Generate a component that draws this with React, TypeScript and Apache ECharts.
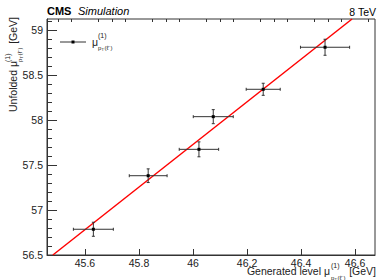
import React, { useEffect, useRef } from "react";
import * as echarts from "echarts";

const genX = [45.631, 45.834, 46.022, 46.075, 46.26, 46.489];
const unfY = [56.786, 57.381, 57.674, 58.037, 58.341, 58.808];
const errX = [0.074, 0.07, 0.073, 0.074, 0.063, 0.091];
const errY = [0.078, 0.076, 0.083, 0.078, 0.067, 0.089];
const fitX = [45.481, 46.589];
const fitY = [56.5, 59.122];
const xMajor = [45.6, 45.8, 46.0, 46.2, 46.4, 46.6];
const xMinor = [45.5, 45.55, 45.65, 45.7, 45.75, 45.85, 45.9, 45.95, 46.05, 46.1, 46.15, 46.25, 46.3, 46.35, 46.45, 46.5, 46.55, 46.65];
const yMajor = [56.5, 57, 57.5, 58, 58.5, 59];
const yMinor = [56.6, 56.7, 56.8, 56.9, 57.1, 57.2, 57.3, 57.4, 57.6, 57.7, 57.8, 57.9, 58.1, 58.2, 58.3, 58.4, 58.6, 58.7, 58.8, 58.9, 59.1];

const FONT = "'Liberation Sans', Arial, Helvetica, sans-serif";
const AX = "#333";

export default function App() {
  const ref = useRef<HTMLDivElement>(null);
  useEffect(() => {
    if (!ref.current) return;
    const chart = echarts.init(ref.current, null, { renderer: "svg" });
    const xr = { min: 45.4593, max: 46.674 };
    const yr = { min: 56.5, max: 59.122 };
    const pts = genX.map((x, i) => [x, unfY[i], errX[i], errY[i]]);
    const subStyle = { fontFamily: FONT, fontSize: 6, fill: "#222" };
    const supStyle = { fontFamily: FONT, fontSize: 7, fill: "#222" };
    const mainStyle = { fontFamily: FONT, fontSize: 10.5, fill: "#222" };
    chart.setOption({
      animation: false,
      grid: { left: 47, top: 19, right: 3, bottom: 25, show: true, borderColor: AX, borderWidth: 1, backgroundColor: "transparent" },
      xAxis: [
        {
          type: "value", ...xr, gridIndex: 0,
          axisLine: { show: true, lineStyle: { color: AX } },
          splitLine: { show: false },
          axisTick: { show: true, inside: true, length: 6, customValues: xMajor, lineStyle: { color: AX } },
          axisLabel: { show: true, customValues: xMajor, margin: 2, fontFamily: FONT, fontSize: 10.5, color: "#222", formatter: (v: number) => String(+v.toFixed(2)) },
        },
        {
          type: "value", ...xr, gridIndex: 0,
          axisLine: { show: false },
          splitLine: { show: false },
          axisTick: { show: true, inside: true, length: 3, customValues: xMinor, lineStyle: { color: AX } },
          axisLabel: { show: false },
        },
      ],
      yAxis: [
        {
          type: "value", ...yr, gridIndex: 0,
          axisLine: { show: true, lineStyle: { color: AX } },
          splitLine: { show: false },
          axisTick: { show: true, inside: true, length: 10, customValues: yMajor, lineStyle: { color: AX } },
          axisLabel: { show: true, customValues: yMajor, margin: 4, fontFamily: FONT, fontSize: 10.5, color: "#222", formatter: (v: number) => String(+v.toFixed(2)) },
        },
        {
          type: "value", ...yr, gridIndex: 0, position: "left",
          axisLine: { show: false },
          splitLine: { show: false },
          axisTick: { show: true, inside: true, length: 5, customValues: yMinor, lineStyle: { color: AX } },
          axisLabel: { show: false },
        },
      ],
      series: [
        {
          type: "line",
          data: fitX.map((x, i) => [x, fitY[i]]),
          symbol: "none",
          lineStyle: { color: "#ff0000", width: 1.5 },
          clip: true,
          z: 3,
        },
        {
          type: "custom",
          data: pts,
          z: 4,
          renderItem: (params: any, api: any) => {
            const x = api.value(0), y = api.value(1), ex = api.value(2), ey = api.value(3);
            const c = api.coord([x, y]);
            const l = api.coord([x - ex, y]);
            const r = api.coord([x + ex, y]);
            const t = api.coord([x, y + ey]);
            const b = api.coord([x, y - ey]);
            const st = { stroke: "#333", lineWidth: 1 };
            const cap = 1.5;
            return {
              type: "group",
              children: [
                { type: "line", shape: { x1: l[0], y1: c[1], x2: r[0], y2: c[1] }, style: st },
                { type: "line", shape: { x1: c[0], y1: t[1], x2: c[0], y2: b[1] }, style: st },
                { type: "line", shape: { x1: l[0], y1: c[1] - cap, x2: l[0], y2: c[1] + cap }, style: st },
                { type: "line", shape: { x1: r[0], y1: c[1] - cap, x2: r[0], y2: c[1] + cap }, style: st },
                { type: "line", shape: { x1: c[0] - cap, y1: t[1], x2: c[0] + cap, y2: t[1] }, style: st },
                { type: "line", shape: { x1: c[0] - cap, y1: b[1], x2: c[0] + cap, y2: b[1] }, style: st },
                { type: "rect", shape: { x: c[0] - 1.5, y: c[1] - 1.5, width: 3, height: 3 }, style: { fill: "#000" } },
              ],
            };
          },
        },
      ],
      graphic: [
        { type: "text", left: 47, top: 5, style: { text: "CMS", fontFamily: FONT, fontSize: 11, fontWeight: "bold", fill: "#000" } },
        { type: "text", left: 78, top: 5, style: { text: "Simulation", fontFamily: FONT, fontSize: 11, fontStyle: "italic", fill: "#000" } },
        { type: "text", x: 376, y: 12, style: { text: "8 TeV", fontFamily: FONT, fontSize: 10.5, fill: "#000", align: "right", verticalAlign: "middle" } },
        // legend
        { type: "line", shape: { x1: 60, y1: 42, x2: 86, y2: 42 }, style: { stroke: "#333", lineWidth: 1 } },
        { type: "rect", shape: { x: 71.5, y: 40.5, width: 3, height: 3 }, style: { fill: "#000" } },
        { type: "text", x: 92, y: 42, style: { ...mainStyle, text: "μ", align: "left", verticalAlign: "middle" } },
        { type: "text", x: 98, y: 35, style: { ...supStyle, text: "(1)", align: "left", verticalAlign: "middle" } },
        { type: "text", x: 98, y: 48, style: { ...subStyle, text: "p", align: "left", verticalAlign: "middle" } },
        { type: "text", x: 101.5, y: 49.5, style: { ...subStyle, fontSize: 4, text: "T", align: "left", verticalAlign: "middle" } },
        { type: "text", x: 104.5, y: 48, style: { ...subStyle, text: "(ℓ⁻)", align: "left", verticalAlign: "middle" } },
        // x title
        { type: "text", x: 330, y: 271, style: { ...mainStyle, text: "Generated level μ", align: "right", verticalAlign: "middle" } },
        { type: "text", x: 331, y: 265.5, style: { ...supStyle, text: "(1)", align: "left", verticalAlign: "middle" } },
        { type: "text", x: 331, y: 277.5, style: { ...subStyle, text: "p", align: "left", verticalAlign: "middle" } },
        { type: "text", x: 334.5, y: 279, style: { ...subStyle, fontSize: 4, text: "T", align: "left", verticalAlign: "middle" } },
        { type: "text", x: 337.5, y: 277.5, style: { ...subStyle, text: "(ℓ⁻)", align: "left", verticalAlign: "middle" } },
        { type: "text", x: 376, y: 271, style: { ...mainStyle, text: "[GeV]", align: "right", verticalAlign: "middle" } },
        // y title
        {
          type: "group", x: 13, y: 112, rotation: Math.PI / 2,
          children: [
            { type: "text", x: 0, y: 0, style: { ...mainStyle, text: "Unfolded μ", align: "left", verticalAlign: "middle" } },
            { type: "text", x: 50, y: -5.5, style: { ...supStyle, text: "(1)", align: "left", verticalAlign: "middle" } },
            { type: "text", x: 50, y: 7, style: { ...subStyle, text: "p", align: "left", verticalAlign: "middle" } },
            { type: "text", x: 53.5, y: 8.5, style: { ...subStyle, fontSize: 4, text: "T", align: "left", verticalAlign: "middle" } },
            { type: "text", x: 56.5, y: 7, style: { ...subStyle, text: "(ℓ⁻)", align: "left", verticalAlign: "middle" } },
            { type: "text", x: 95, y: 0, style: { ...mainStyle, text: "[GeV]", align: "right", verticalAlign: "middle" } },
          ],
        },
      ],
    });
    return () => chart.dispose();
  }, []);
  return <div ref={ref} style={{ position: "fixed", left: 0, top: 0, width: 378, height: 280, background: "#fff" }} />;
}
